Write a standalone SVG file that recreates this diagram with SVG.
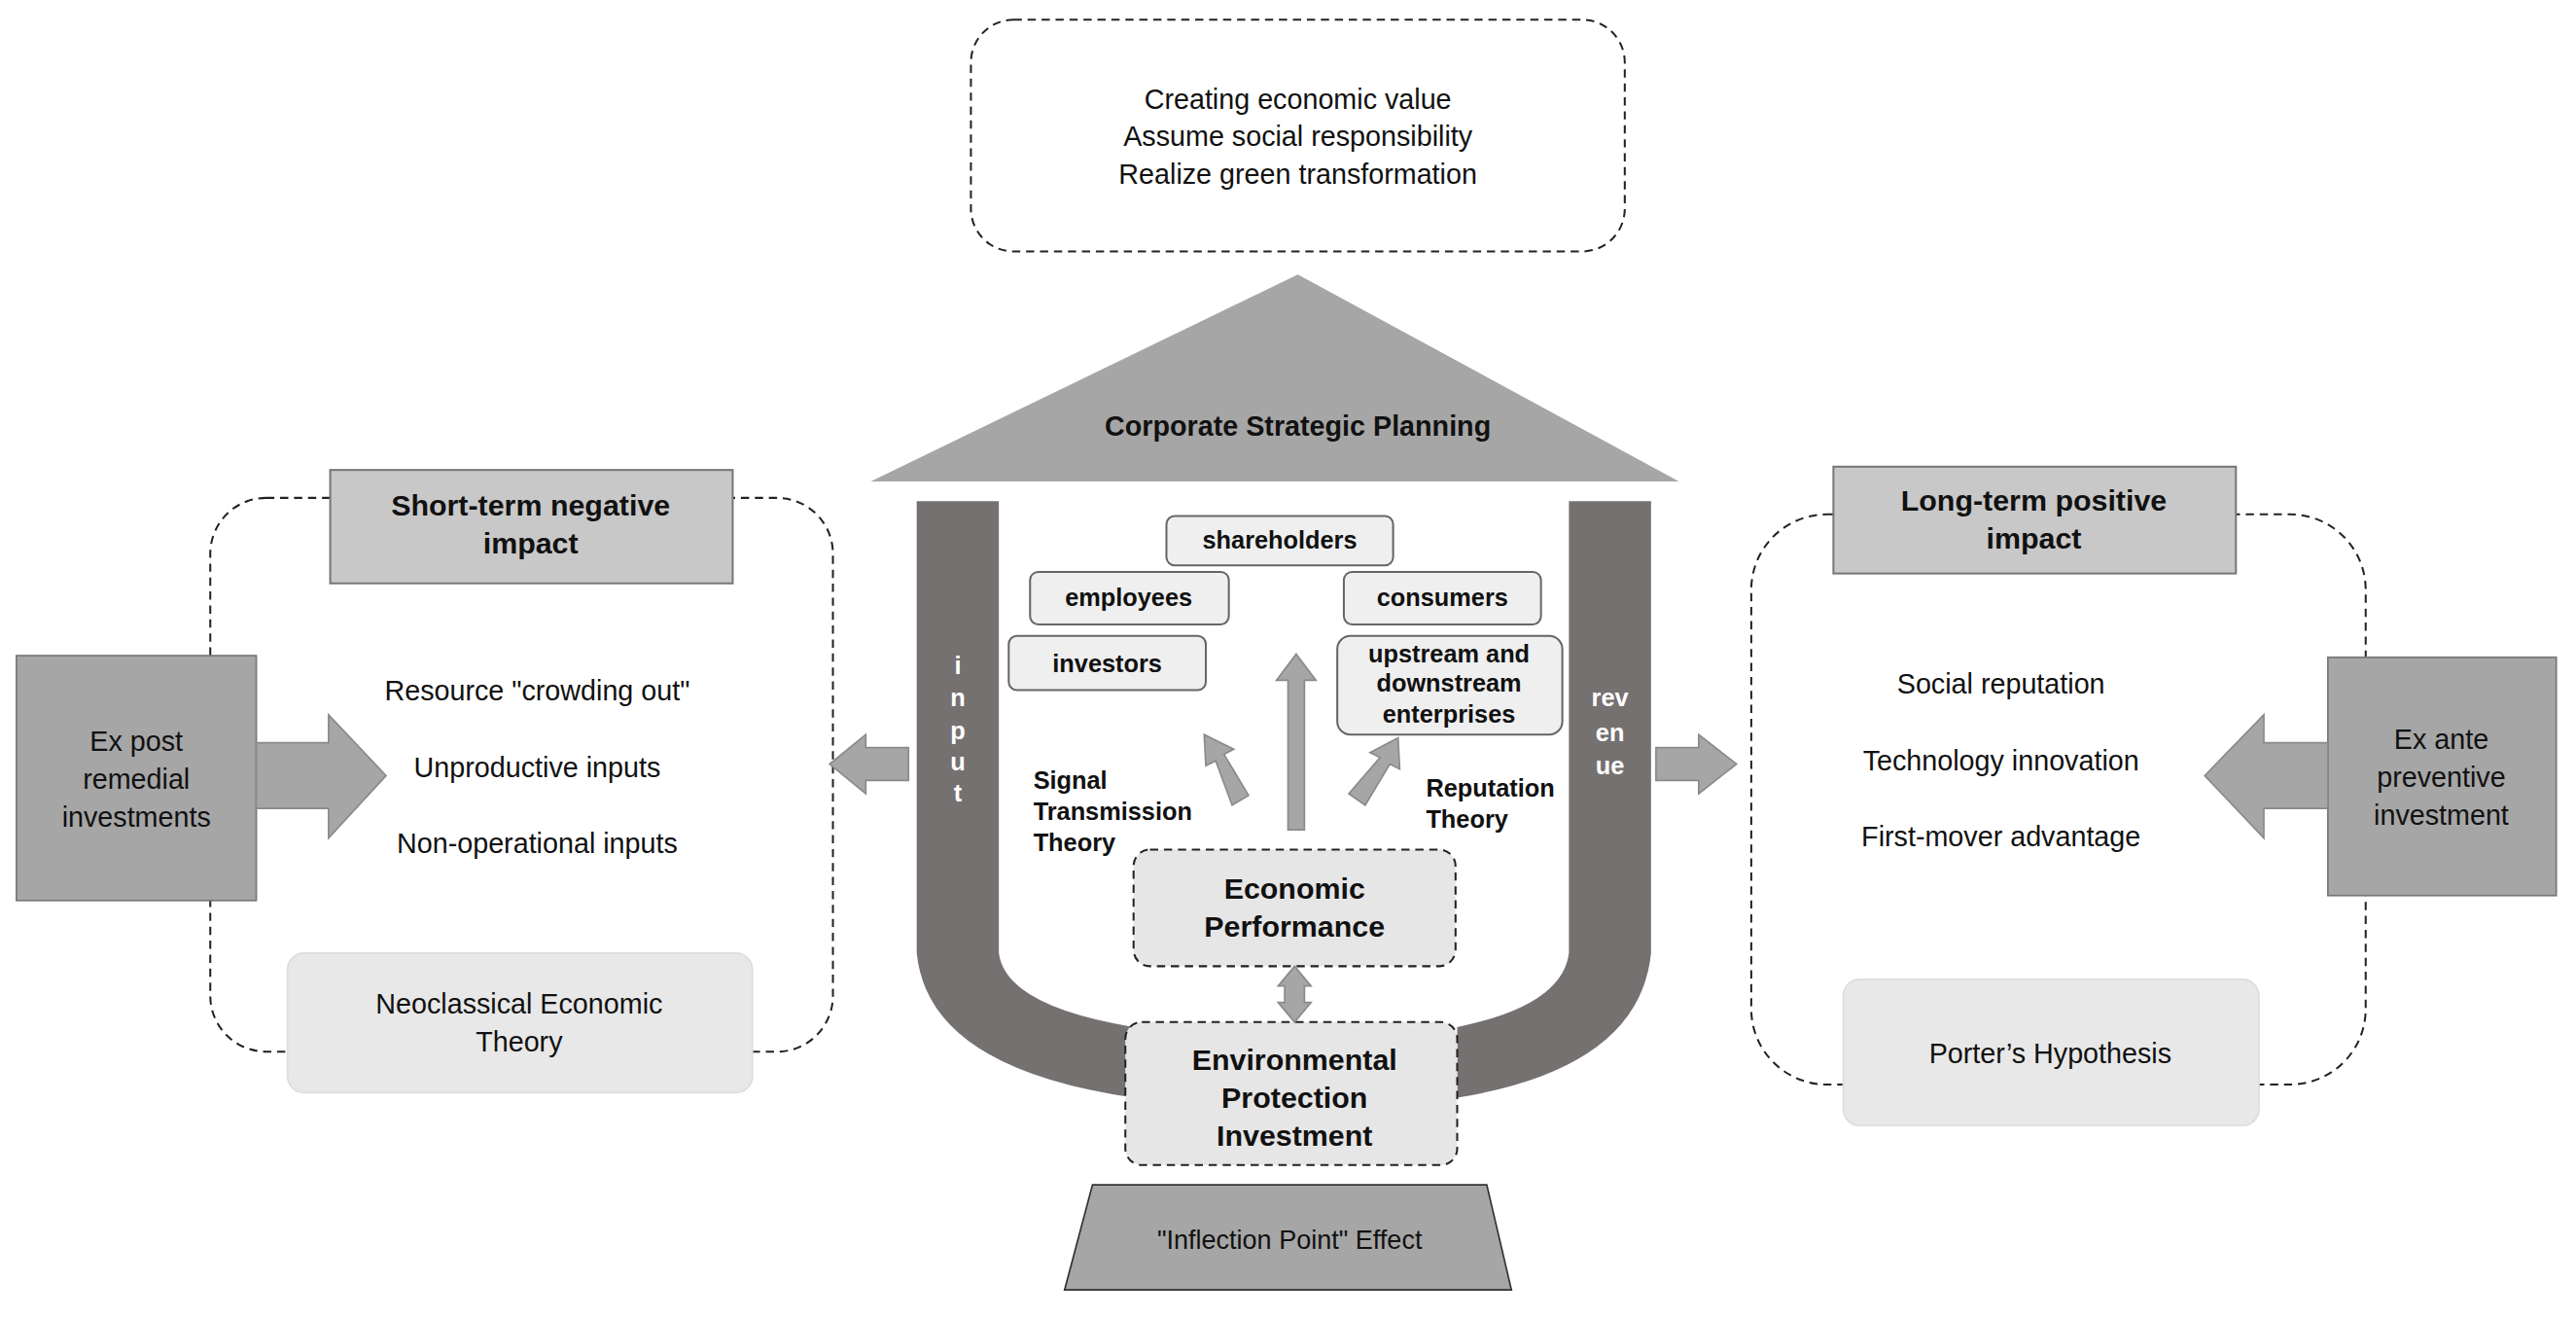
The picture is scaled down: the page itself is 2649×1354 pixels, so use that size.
<svg xmlns="http://www.w3.org/2000/svg" width="2649" height="1354" viewBox="0 0 2649 1354">
<style>
text{font-family:"Liberation Sans",Arial,sans-serif;fill:#111;text-anchor:middle}
.b{font-weight:bold}
.dash{fill:none;stroke:#222;stroke-width:1.2;stroke-dasharray:5 3.5}
.dbox{fill:#e6e6e6;stroke:#222;stroke-width:1.2;stroke-dasharray:5 3.5}
.sbox{fill:#efefef;stroke:#666;stroke-width:1.2}
.gbox{fill:#c8c8c8;stroke:#777;stroke-width:1.2}
.lbox{fill:#e8e8e8;stroke:#ddd;stroke-width:1}
.arr{fill:#a6a6a6;stroke:#8a8a8a;stroke-width:1}
</style>
<rect width="2649" height="1354" fill="#fff"/>
<g transform="scale(1.6894)">
<g id="goals"><rect x="591" y="12" width="398" height="141" rx="26" class="dash"/>
<text x="790" y="66" font-size="17">Creating economic value</text>
<text x="790" y="89" font-size="17">Assume social responsibility</text>
<text x="790" y="112" font-size="17">Realize green transformation</text></g>
<g id="roof"><polygon points="790,167 1022,293 530,293" fill="#a6a6a6"/>
<text x="790" y="265" font-size="17" class="b">Corporate Strategic Planning</text></g>
<g id="ushape"><path d="M558,305 H608 V580 Q612,612 690,625 V668 Q565,650 558,580 Z" fill="#757171"/>
<path d="M1005,305 H955 V580 Q951,612 887,625 V668 Q998,650 1005,580 Z" fill="#757171"/>
<g font-size="15" class="b"><text x="583" y="410" fill="#fff" style="fill:#fff">i</text><text x="583" y="430" style="fill:#fff">n</text><text x="583" y="450" style="fill:#fff">p</text><text x="583" y="469" style="fill:#fff">u</text><text x="583" y="488" style="fill:#fff">t</text>
<text x="980" y="430" style="fill:#fff">rev</text><text x="980" y="451" style="fill:#fff">en</text><text x="980" y="471" style="fill:#fff">ue</text></g></g>
<g id="stakeholders" font-size="15">
<g id="shareholders"><rect x="710" y="314" width="138" height="30" rx="5" class="sbox"/><text x="779" y="334" class="b">shareholders</text></g>
<g id="employees"><rect x="627" y="348" width="121" height="32" rx="5" class="sbox"/><text x="687" y="369" class="b">employees</text></g>
<g id="investors"><rect x="614" y="387" width="120" height="33" rx="5" class="sbox"/><text x="674" y="409" class="b">investors</text></g>
<g id="consumers"><rect x="818" y="348" width="120" height="32" rx="5" class="sbox"/><text x="878" y="369" class="b">consumers</text></g>
<g id="upstream"><rect x="814" y="387" width="137" height="60" rx="8" class="sbox"/><text x="882" y="403" class="b">upstream and</text><text x="882" y="421" class="b">downstream</text><text x="882" y="440" class="b">enterprises</text></g>
</g>
<g id="theories" font-size="15" class="b">
<text x="629" y="480" text-anchor="start" style="text-anchor:start">Signal</text>
<text x="629" y="499" style="text-anchor:start">Transmission</text>
<text x="629" y="518" style="text-anchor:start">Theory</text>
<text x="868" y="485" style="text-anchor:start">Reputation</text>
<text x="868" y="504" style="text-anchor:start">Theory</text></g>
<g id="econ"><rect x="690" y="517" width="196" height="71" rx="10" class="dbox"/>
<text x="788" y="547" font-size="18" class="b">Economic</text><text x="788" y="570" font-size="18" class="b">Performance</text></g>
<g id="epi"><rect x="685" y="622" width="202" height="87" rx="10" class="dbox"/>
<text x="788" y="651" font-size="18" class="b">Environmental</text><text x="788" y="674" font-size="18" class="b">Protection</text><text x="788" y="697" font-size="18" class="b">Investment</text></g>
<g id="inflection"><polygon points="665,721 905,721 920,785 648,785" fill="#a6a6a6" stroke="#333" stroke-width="1"/>
<text x="785" y="760" font-size="16">"Inflection Point" Effect</text></g>
<g id="short"><rect x="128" y="303" width="379" height="337" rx="34" class="dash"/>
<rect x="201" y="286" width="245" height="69" class="gbox"/>
<text x="323" y="314" font-size="18" class="b">Short-term negative</text><text x="323" y="337" font-size="18" class="b">impact</text>
<text x="327" y="426" font-size="17">Resource "crowding out"</text>
<text x="327" y="473" font-size="17">Unproductive inputs</text>
<text x="327" y="519" font-size="17">Non-operational inputs</text>
<rect x="175" y="580" width="283" height="85" rx="10" class="lbox"/>
<text x="316" y="617" font-size="17">Neoclassical Economic</text><text x="316" y="640" font-size="17">Theory</text></g>
<g id="expost"><rect x="10" y="399" width="146" height="149" fill="#a6a6a6" stroke="#777"/>
<text x="83" y="457" font-size="17">Ex post</text><text x="83" y="480" font-size="17">remedial</text><text x="83" y="503" font-size="17">investments</text></g>
<g id="long"><rect x="1066" y="313" width="374" height="347" rx="46" class="dash"/>
<rect x="1116" y="284" width="245" height="65" class="gbox"/>
<text x="1238" y="311" font-size="18" class="b">Long-term positive</text><text x="1238" y="334" font-size="18" class="b">impact</text>
<text x="1218" y="422" font-size="17">Social reputation</text>
<text x="1218" y="469" font-size="17">Technology innovation</text>
<text x="1218" y="515" font-size="17">First-mover advantage</text>
<rect x="1122" y="596" width="253" height="89" rx="10" class="lbox"/>
<text x="1248" y="647" font-size="17">Porter’s Hypothesis</text></g>
<g id="exante"><rect x="1417" y="400" width="139" height="145" fill="#a6a6a6" stroke="#777"/>
<text x="1486" y="456" font-size="17">Ex ante</text><text x="1486" y="479" font-size="17">preventive</text><text x="1486" y="502" font-size="17">investment</text></g>
<g id="connectors">
<polygon points="156,452 200,452 200,435 235,472 200,510 200,492 156,492" class="arr"/>
<polygon points="1417,452 1378,452 1378,435 1342,472 1378,510 1378,492 1417,492" class="arr"/>
<polygon points="553,455 527,455 527,447 505,465 527,483 527,475 553,475" class="arr"/>
<polygon points="1008,455 1034,455 1034,447 1057,465 1034,483 1034,475 1008,475" class="arr"/>
<polygon points="784,505 794,505 794,414 801,414 789,398 777,414 784,414" class="arr"/>
<polygon points="750,490 760,484 745,459 751,456 733,447 734,466 740,463 750,490" class="arr"/>
<polygon points="821,483 831,490 846,465 852,468 851,449 834,458 840,461" class="arr"/>
<polygon points="782,600 778,600 788,588 798,600 794,600 794,610 798,610 788,622 778,610 782,610" class="arr"/>
</g>
</g>
</svg>
